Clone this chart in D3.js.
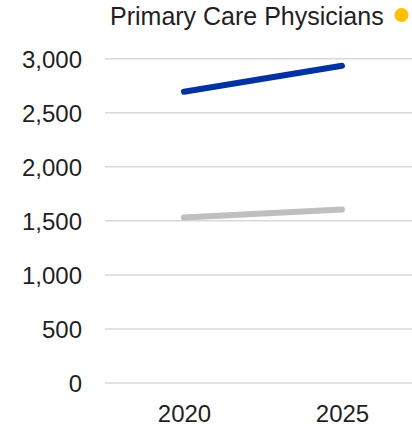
<!DOCTYPE html>
<html>
<head>
<meta charset="utf-8">
<script src="https://cdn.jsdelivr.net/npm/d3@7"></script>
<style>
  html, body { margin: 0; padding: 0; background: #fff; }
  svg { display: block; font-family: "Liberation Sans", Arial, sans-serif; }
</style>
</head>
<body>
<svg id="chart" width="412" height="428"></svg>
<script>
const categories = ["2020", "2025"];
const seriesBlue = [2695, 2935];
const seriesGray = [1530, 1605];
const yTicks = [0, 500, 1000, 1500, 2000, 2500, 3000];
const titleText = "Primary Care Physicians";

const svg = d3.select("#chart");
const x = d3.scalePoint().domain(categories).range([105, 421]).padding(0.5);
const y = d3.scaleLinear().domain([0, 3000]).range([383, 58.7]);

// gridlines
const yAxis = d3.axisLeft(y).tickValues(yTicks).tickSize(0).tickFormat(d3.format(","));
const gy = svg.append("g").attr("transform", "translate(82,0)").call(yAxis);
gy.select(".domain").remove();
gy.selectAll("text").attr("x", 0).attr("dy", "0.35em")
  .style("font-size", "24px").style("fill", "#1f1f1f")
  .style("font-family", "Liberation Sans, Arial, sans-serif");

svg.append("g").selectAll("line").data(yTicks).join("line")
  .attr("x1", 105).attr("x2", 412)
  .attr("y1", d => y(d)).attr("y2", d => y(d))
  .attr("stroke", "#d9d9d9").attr("stroke-width", 1.5);

// x axis
const xAxis = d3.axisBottom(x).tickSize(0);
const gx = svg.append("g").attr("transform", "translate(0,383)").call(xAxis);
gx.select(".domain").remove();
gx.selectAll("text").attr("y", 0).attr("dy", "38.5px")
  .style("font-size", "24px").style("fill", "#1f1f1f")
  .style("font-family", "Liberation Sans, Arial, sans-serif");

const line = d3.line().x((d, i) => x(categories[i])).y(d => y(d));

svg.append("path").datum(seriesGray).attr("d", line)
  .attr("fill", "none").attr("stroke", "#bfbfbf").attr("stroke-width", 6)
  .attr("stroke-linecap", "round");
svg.append("path").datum(seriesBlue).attr("d", line)
  .attr("fill", "none").attr("stroke", "#0033a0").attr("stroke-width", 6)
  .attr("stroke-linecap", "round");

// title + marker
svg.append("text").attr("x", 110).attr("y", 25)
  .style("font-size", "25px").style("fill", "#1f1f1f")
  .text(titleText);
svg.append("circle").attr("cx", 401.5).attr("cy", 15).attr("r", 7).attr("fill", "#ffc000");
</script>
</body>
</html>
